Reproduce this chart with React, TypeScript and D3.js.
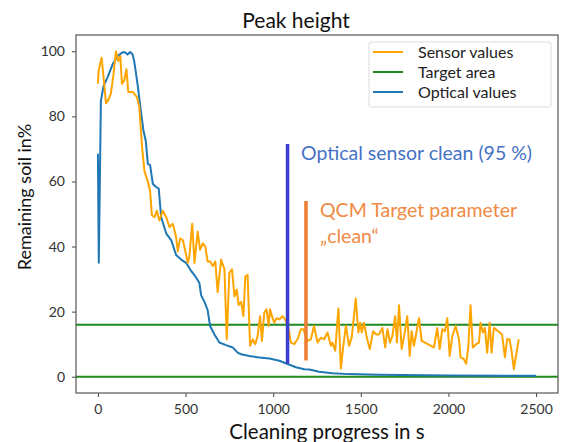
import * as d3 from 'd3';
import React, { useEffect, useRef } from 'react';

// sensor (QCM) readings, time in s / remaining soil in %
const sensorTime = [0, 4, 21, 36, 46, 59, 74, 89, 103, 116, 128, 137, 150, 163, 173, 198, 222, 236, 253, 266, 285, 298, 308, 323, 336, 351, 370, 390, 408, 427, 446, 456, 469, 484, 493, 513, 522, 538, 551, 569, 583, 598, 613, 626, 640, 655, 670, 683, 703, 722, 735, 750, 765, 779, 792, 803, 817, 830, 841, 854, 868, 883, 898, 911, 925, 936, 949, 962, 974, 982, 993, 1006, 1019, 1035, 1053, 1069, 1088, 1101, 1120, 1139, 1158, 1172, 1196, 1215, 1233, 1253, 1272, 1291, 1310, 1329, 1338, 1354, 1372, 1386, 1399, 1415, 1433, 1448, 1471, 1486, 1496, 1505, 1518, 1532, 1551, 1570, 1589, 1604, 1623, 1639, 1652, 1666, 1680, 1696, 1706, 1718, 1733, 1752, 1765, 1779, 1790, 1803, 1817, 1832, 1847, 1917, 1936, 1950, 1965, 1980, 1993, 2007, 2022, 2041, 2060, 2069, 2088, 2101, 2113, 2126, 2139, 2158, 2174, 2183, 2196, 2208, 2221, 2235, 2246, 2259, 2284, 2306, 2322, 2335, 2348, 2360, 2373, 2401];
const sensorValue = [90, 94, 98, 90, 84, 85, 87, 93, 100, 97, 98.5, 90, 91, 94.5, 87.5, 87.5, 86, 83, 70, 63, 60, 57, 49.6, 49, 51, 48, 51, 49, 46, 47, 43, 38.5, 42.5, 42, 40, 35, 37, 47, 35, 44.6, 39, 41, 40, 35.4, 35.4, 34, 35.4, 26, 36, 33, 11.5, 32, 33, 24.7, 26.8, 22, 23, 18.6, 30.8, 31.3, 9.5, 11.5, 10, 12.5, 18.6, 11, 19.7, 20.7, 15.6, 20.7, 18.6, 16.6, 18, 17.6, 18.6, 17.6, 14.6, 10.5, 10, 11.5, 14.6, 14.6, 11, 11.5, 15.6, 10.5, 12, 11.5, 13.6, 9.5, 10.5, 8, 21, 2.5, 9, 15.6, 9.5, 12, 24, 13.6, 16.6, 13.6, 16.6, 12.5, 8.5, 14, 13, 13, 15, 9, 14.6, 10.5, 12.5, 18.6, 10.5, 22, 8.5, 14, 18.6, 6.4, 14, 9.5, 13.6, 18, 11, 9, 15, 8.5, 14.6, 14, 18, 6.4, 12.5, 15.6, 11.5, 6, 5.4, 4, 9, 22, 9, 10, 10.5, 16.6, 13.6, 15, 7.4, 16.6, 7.4, 15, 14, 13, 6, 11.5, 11.5, 8, 2.3, 11.5];

// optical readings
const opticalTime = [0, 5, 17, 32, 55, 84, 112, 141, 154, 169, 184, 198, 207, 226, 245, 260, 273, 285, 298, 313, 332, 347, 361, 390, 418, 446, 475, 503, 532, 560, 579, 589, 608, 626, 640, 665, 693, 731, 769, 797, 817, 864, 921, 978, 1035, 1082, 1130, 1177, 1206, 1262, 1338, 1433, 1600, 2000, 2500];
const opticalValue = [68.5, 35, 84.7, 89.3, 92, 96, 98.5, 99.7, 99.7, 99, 99.8, 99, 97, 90, 81.7, 75.6, 72.5, 65.4, 65, 59.3, 58.3, 57.8, 49, 44, 42, 37.4, 36, 35, 32.5, 30.5, 28.8, 25, 23, 20.5, 15.6, 13, 10.5, 9.7, 9, 7.4, 6.9, 6.4, 5.9, 5.6, 4.9, 3.9, 2.9, 2.3, 2.2, 1.5, 1.1, 0.8, 0.6, 0.4, 0.3];

const targetLevels = [0, 16];
const xTicks = [0, 500, 1000, 1500, 2000, 2500];
const yTicks = [0, 20, 40, 60, 80, 100];

// marker bars: [time, from, to]
const opticalClean = [1082, 4, 71.5];
const qcmClean = [1187, 5, 54];

const legendItems = [
  { label: 'Sensor values', color: '#ffa500' },
  { label: 'Target area', color: '#1f8a1f' },
  { label: 'Optical values', color: '#1f77b4' }
];

const W = 561;
const H = 442;
const FONT = 'Lato, "Open Sans", sans-serif';

export default function App() {
  const svgRef = useRef<SVGSVGElement>(null);

  useEffect(() => {
    const svg = d3.select(svgRef.current).html('');
    const margin = { top: 35, right: 3, bottom: 49, left: 76 };

    const x = d3.scaleLinear().domain([-125, 2625]).range([margin.left, W - margin.right]);
    const y = d3.scaleLinear().domain([-5, 105]).range([H - margin.bottom, margin.top]);

    svg.append('rect')
      .attr('width', W).attr('height', H).attr('fill', '#fff');

    // axes
    const xAxis = svg.append('g')
      .attr('transform', `translate(0,${H - margin.bottom})`)
      .call(d3.axisBottom(x).tickValues(xTicks).tickSize(4).tickPadding(7).tickFormat(d3.format('d')));
    const yAxis = svg.append('g')
      .attr('transform', `translate(${margin.left},0)`)
      .call(d3.axisLeft(y).tickValues(yTicks).tickSize(4).tickPadding(7));
    [xAxis, yAxis].forEach(a => {
      a.select('.domain').remove();
      a.selectAll('line').attr('stroke', '#444');
      a.selectAll('text').attr('fill', '#333').style('font-family', FONT).style('font-size', '14px');
    });

    // target area lines
    svg.selectAll('.target')
      .data(targetLevels)
      .enter().append('line')
        .attr('x1', margin.left).attr('x2', W - margin.right)
        .attr('y1', d => y(d)).attr('y2', d => y(d))
        .attr('stroke', '#1f8a1f').attr('stroke-width', 2);

    const line = d3.line<[number, number]>().x(d => x(d[0])).y(d => y(d[1]));

    svg.append('path')
      .datum(opticalTime.map((t, i) => [t, opticalValue[i]] as [number, number]))
      .attr('d', line)
      .attr('fill', 'none').attr('stroke', '#1f77b4').attr('stroke-width', 2).attr('stroke-linejoin', 'round');

    svg.append('path')
      .datum(sensorTime.map((t, i) => [t, sensorValue[i]] as [number, number]))
      .attr('d', line)
      .attr('fill', 'none').attr('stroke', '#ffa500').attr('stroke-width', 2).attr('stroke-linejoin', 'round');

    // marker bars
    svg.append('line')
      .attr('x1', x(opticalClean[0])).attr('x2', x(opticalClean[0]))
      .attr('y1', y(opticalClean[1])).attr('y2', y(opticalClean[2]))
      .attr('stroke', '#3b3fcf').attr('stroke-width', 3.5);
    svg.append('line')
      .attr('x1', x(qcmClean[0])).attr('x2', x(qcmClean[0]))
      .attr('y1', y(qcmClean[1])).attr('y2', y(qcmClean[2]))
      .attr('stroke', '#ed7d31').attr('stroke-width', 3.5);

    svg.append('text')
      .attr('x', 301).attr('y', 160)
      .attr('fill', '#4472c4').style('font-family', FONT).style('font-size', '19.5px')
      .text('Optical sensor clean (95 %)');
    svg.append('text')
      .attr('x', 320).attr('y', 217)
      .attr('fill', '#f08a44').style('font-family', FONT).style('font-size', '19.5px')
      .text('QCM Target parameter');
    svg.append('text')
      .attr('x', 320).attr('y', 243)
      .attr('fill', '#f08a44').style('font-family', FONT).style('font-size', '19.5px')
      .text('\u201Eclean\u201C');

    // frame
    svg.append('rect')
      .attr('x', margin.left).attr('y', margin.top)
      .attr('width', W - margin.left - margin.right)
      .attr('height', H - margin.top - margin.bottom)
      .attr('fill', 'none').attr('stroke', '#555').attr('stroke-width', 1.2);

    // legend
    const lg = svg.append('g').attr('transform', 'translate(369,42)');
    lg.append('rect')
      .attr('width', 182).attr('height', 65).attr('rx', 2)
      .attr('fill', '#fff').attr('stroke', '#ddd');
    legendItems.forEach((d, i) => {
      lg.append('line')
        .attr('x1', 4).attr('x2', 34).attr('y1', 10 + i * 20).attr('y2', 10 + i * 20)
        .attr('stroke', d.color).attr('stroke-width', 2);
      lg.append('text')
        .attr('x', 49).attr('y', 15.5 + i * 20)
        .attr('fill', '#222').style('font-family', FONT).style('font-size', '16px')
        .text(d.label);
    });

    // titles
    svg.append('text')
      .attr('x', 296).attr('y', 28)
      .attr('text-anchor', 'middle').attr('fill', '#111')
      .style('font-family', FONT).style('font-size', '21px')
      .text('Peak height');
    svg.append('text')
      .attr('x', 327).attr('y', 439)
      .attr('text-anchor', 'middle').attr('fill', '#111')
      .style('font-family', FONT).style('font-size', '20.5px')
      .text('Cleaning progress in s');
    svg.append('text')
      .attr('transform', 'translate(31,197) rotate(-90)')
      .attr('text-anchor', 'middle').attr('fill', '#111')
      .style('font-family', FONT).style('font-size', '18px')
      .text('Remaining soil in%');
  }, []);

  return <svg ref={svgRef} width={W} height={H} style={{ position: 'absolute', left: 0, top: 0 }} />;
}
